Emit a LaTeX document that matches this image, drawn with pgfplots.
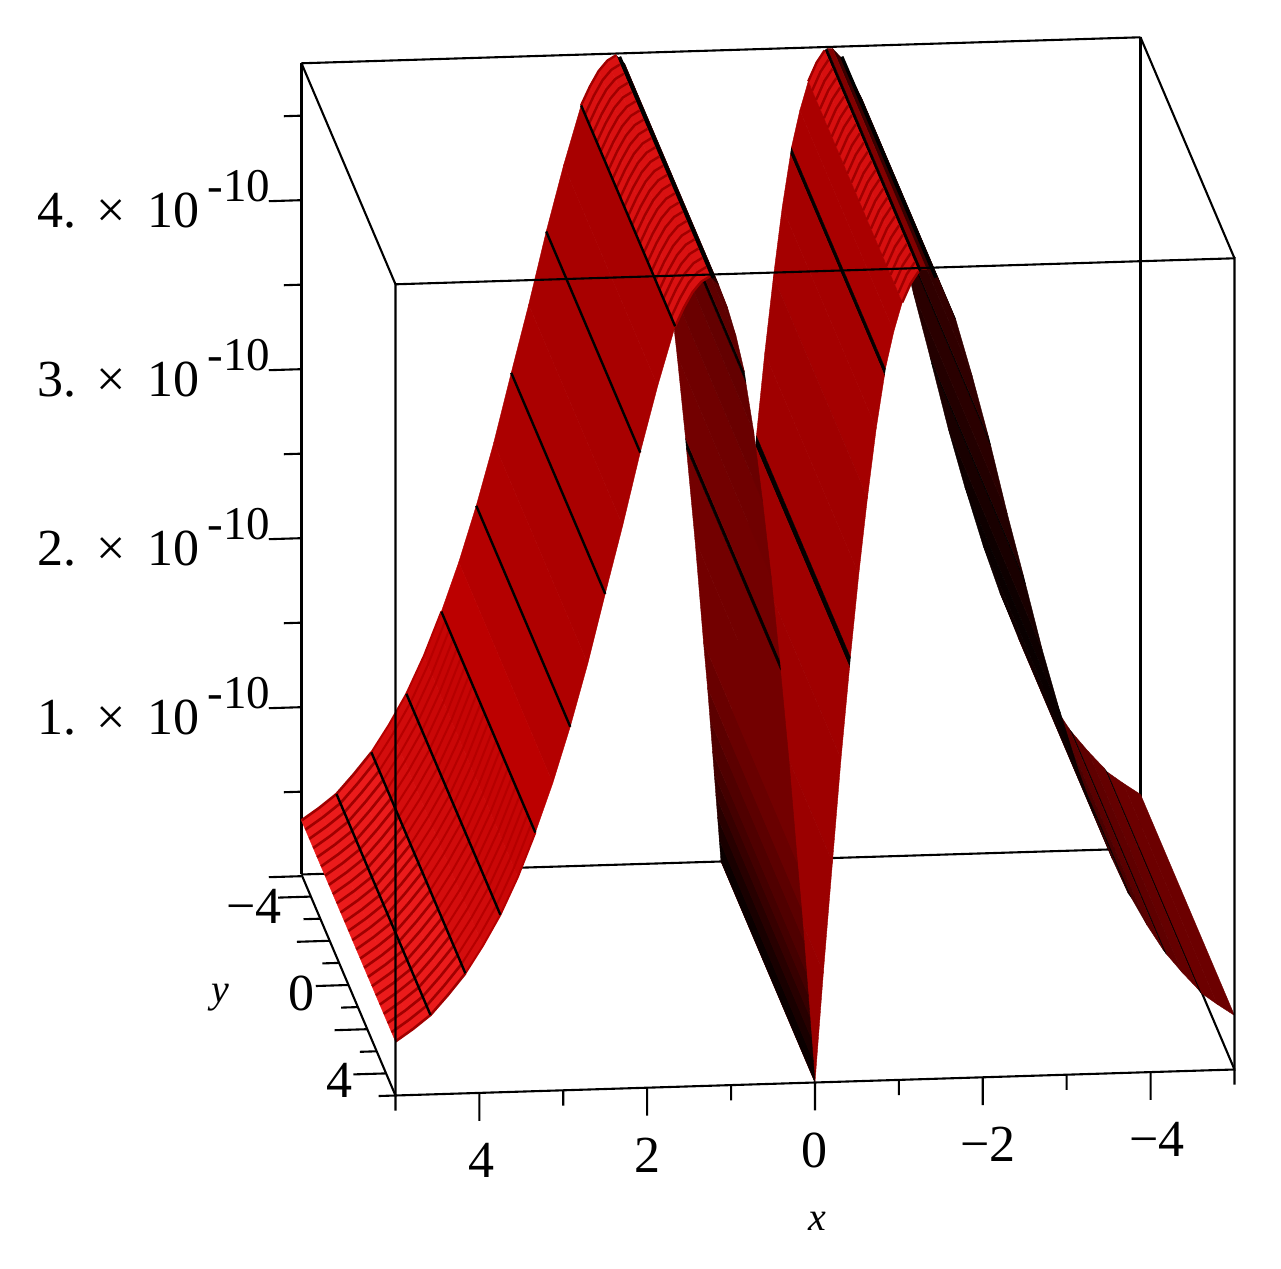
\documentclass[border=0pt]{standalone}
\usepackage{fontspec}
\setmainfont{Liberation Serif}
\usepackage{pgfplots}
\usepackage{pgfplotstable}
\pgfplotsset{compat=1.18}

\definecolor{hatchA}{RGB}{160,0,0}
\definecolor{hatchB}{RGB}{182,0,0}
\newcommand\ztick[1]{#1.\hspace{10pt}×\hspace{11pt}10\hspace{4pt}\raisebox{13pt}{\fontsize{23.5}{23.5}\selectfont -10}}
\tikzset{lab/.style={font=\fontsize{26}{26}\selectfont}}

% profile pieces for the fine mesh lines (x, z in units of 1e-10)
\pgfplotstableread{
x z
4.167 0.71
4.375 0.585
4.583 0.47
4.792 0.39
5.000 0.32
}\hatchtail
\pgfplotstableread{
x z
3.333 1.53
3.542 1.27
3.750 1.05
3.958 0.87
4.167 0.71
}\hatchmid
\pgfplotstableread{
x z
1.250 4.79
1.354 4.76
1.458 4.70
1.562 4.61
1.667 4.50
}\hatchpeakL
\pgfplotstableread{
x z
-1.235 4.78
-1.140 4.71
-1.040 4.60
}\hatchpeakR

\begin{document}
\begin{tikzpicture}
\path[use as bounding box] (0,0) rectangle (640.5pt,634.5pt);
\begin{axis}[
  at={(384pt,148.5pt)},anchor=origin,
  x={(-41.95pt,-1.3pt)},y={(4.7pt,-11.05pt)},z={(0pt,84.5pt)},
  xmin=-5,xmax=5,ymin=-5,ymax=5,zmin=0,zmax=4.8,
  hide axis,clip=false,
  z buffer=none,
  colormap={surfred}{rgb255(0)=(0,0,0) rgb255(190)=(190,0,0) rgb255(240)=(240,30,30)},
  point meta min=0,point meta max=240,
  boxline/.style={black,line width=1.05pt,no marks,forget plot},
  tickl/.style={black,line width=1.05pt,no marks,forget plot},
]
% back of the box
\addplot3[boxline] coordinates {(5,-5,0) (5,-5,4.8)};
\addplot3[boxline] coordinates {(-5,-5,0) (-5,-5,4.8)};
\addplot3[boxline] coordinates {(5,-5,0) (-5,-5,0) (-5,5,0)};
\addplot3[boxline] coordinates {(5,-5,4.8) (-5,-5,4.8)};

% surface, strips in rising x so the nearer ones paint over
\addplot3[surf,shader=flat corner,line width=0.2pt,point meta=\thisrow{m},forget plot] table[x=x,y=y,z=z] {
x y z m
-5.000 -5 0.32 108
-5.000 5 0.32 108

-4.792 -5 0.39 108
-4.792 5 0.39 108

-4.600 -5 0.46 5
-4.600 5 0.46 5

-4.570 -5 0.48 100
-4.570 5 0.48 100

-4.375 -5 0.585 95
-4.375 5 0.585 95

-4.182 -5 0.70 5
-4.182 5 0.70 5

-4.152 -5 0.72 90
-4.152 5 0.72 90

-3.958 -5 0.87 75
-3.958 5 0.87 75

-3.765 -5 1.04 5
-3.765 5 1.04 5

-3.735 -5 1.06 60
-3.735 5 1.06 60

-3.542 -5 1.27 45
-3.542 5 1.27 45

-3.343 -5 1.52 5
-3.343 5 1.52 5

-3.323 -5 1.54 15
-3.323 5 1.54 15

-3.125 -5 1.82 10
-3.125 5 1.82 10

-2.927 -5 2.14 4
-2.927 5 2.14 4

-2.907 -5 2.17 14
-2.907 5 2.17 14

-2.708 -5 2.52 25
-2.708 5 2.52 25

-2.510 -5 2.91 4
-2.510 5 2.91 4

-2.490 -5 2.95 35
-2.490 5 2.95 35

-2.292 -5 3.33 42
-2.292 5 3.33 42

-2.093 -5 3.74 4
-2.093 5 3.74 4

-2.073 -5 3.78 48
-2.073 5 3.78 48

-1.875 -5 4.15 50
-1.875 5 4.15 50

-1.677 -5 4.49 4
-1.677 5 4.49 4

-1.657 -5 4.51 52
-1.657 5 4.51 52

-1.562 -5 4.61 55
-1.562 5 4.61 55

-1.458 -5 4.72 55
-1.458 5 4.72 55

-1.330 -5 4.79 130
-1.330 5 4.79 130

-1.265 -5 4.79 5
-1.265 5 4.79 5

-1.235 -5 4.78 215
-1.235 5 4.78 215

-1.140 -5 4.71 215
-1.140 5 4.71 215

-1.040 -5 4.60 170
-1.040 5 4.60 170

-0.940 -5 4.43 170
-0.940 5 4.43 170

-0.839 -5 4.21 5
-0.839 5 4.21 5

-0.828 -5 4.17 165
-0.828 5 4.17 165

-0.730 -5 3.86 165
-0.730 5 3.86 165

-0.625 -5 3.45 160
-0.625 5 3.45 160

-0.522 -5 3.00 160
-0.522 5 3.00 160

-0.422 -5 2.51 5
-0.422 5 2.51 5

-0.412 -5 2.45 160
-0.412 5 2.45 160

-0.310 -5 1.91 158
-0.310 5 1.91 158

-0.208 -5 1.30 155
-0.208 5 1.30 155

-0.100 -5 0.65 152
-0.100 5 0.65 152

0.000 -5 0.00 10
0.000 5 0.00 10

0.020 -5 0.13 25
0.020 5 0.13 25

0.040 -5 0.26 40
0.040 5 0.26 40

0.060 -5 0.39 55
0.060 5 0.39 55

0.080 -5 0.52 68
0.080 5 0.52 68

0.100 -5 0.65 80
0.100 5 0.65 80

0.130 -5 0.84 92
0.130 5 0.84 92

0.160 -5 1.03 105
0.160 5 1.03 105

0.208 -5 1.30 115
0.208 5 1.30 115

0.310 -5 1.91 115
0.310 5 1.91 115

0.412 -5 2.45 5
0.412 5 2.45 5

0.422 -5 2.51 115
0.422 5 2.51 115

0.522 -5 3.00 112
0.522 5 3.00 112

0.625 -5 3.45 106
0.625 5 3.45 106

0.730 -5 3.86 100
0.730 5 3.86 100

0.826 -5 4.16 5
0.826 5 4.16 5

0.842 -5 4.22 95
0.842 5 4.22 95

0.940 -5 4.43 90
0.940 5 4.43 90

1.042 -5 4.60 85
1.042 5 4.60 85

1.150 -5 4.74 40
1.150 5 4.74 40

1.250 -5 4.79 218
1.250 5 4.79 218

1.354 -5 4.76 218
1.354 5 4.76 218

1.458 -5 4.70 218
1.458 5 4.70 218

1.562 -5 4.61 218
1.562 5 4.61 218

1.667 -5 4.50 168
1.667 5 4.50 168

1.875 -5 4.15 168
1.875 5 4.15 168

2.083 -5 3.76 168
2.083 5 3.76 168

2.292 -5 3.33 170
2.292 5 3.33 170

2.500 -5 2.93 172
2.500 5 2.93 172

2.708 -5 2.52 175
2.708 5 2.52 175

2.917 -5 2.15 180
2.917 5 2.15 180

3.125 -5 1.82 188
3.125 5 1.82 188

3.333 -5 1.53 198
3.333 5 1.53 198

3.542 -5 1.27 202
3.542 5 1.27 202

3.750 -5 1.05 208
3.750 5 1.05 208

3.958 -5 0.87 212
3.958 5 0.87 212

4.167 -5 0.71 235
4.167 5 0.71 235

4.375 -5 0.585 235
4.375 5 0.585 235

4.583 -5 0.47 235
4.583 5 0.47 235

4.792 -5 0.39 235
4.792 5 0.39 235

5.000 -5 0.32 235
5.000 5 0.32 235
};

% fine mesh lines
\pgfplotsinvokeforeach{-5,-4.5833,-4.1667,-3.75,-3.3333,-2.9167,-2.5,-2.0833,-1.6667,-1.25,-0.8333,-0.4167,0,0.4167,0.8333,1.25,1.6667,2.0833,2.5,2.9167,3.3333,3.75,4.1667,4.5833,5}{
  \addplot3[hatchA,line width=1.3pt,no marks,forget plot] table[x=x,y expr=#1,z=z] {\hatchtail};
  \addplot3[hatchB,line width=1pt,no marks,forget plot] table[x=x,y expr=#1,z=z] {\hatchmid};
  \addplot3[hatchA,line width=1.2pt,no marks,forget plot] table[x=x,y expr=#1,z=z] {\hatchpeakL};
  \addplot3[hatchA,line width=1.2pt,no marks,forget plot] table[x=x,y expr=#1,z=z] {\hatchpeakR};
}

% coarse grid lines on the open side
\addplot3[black,line width=1.2pt,no marks,forget plot,empty line=jump] table[x=x,y=y,z=z] {
x y z
1.667 -5 4.50
1.667 5 4.50

2.083 -5 3.76
2.083 5 3.76

2.500 -5 2.93
2.500 5 2.93

2.917 -5 2.15
2.917 5 2.15

3.333 -5 1.53
3.333 5 1.53

3.750 -5 1.05
3.750 5 1.05

4.167 -5 0.71
4.167 5 0.71

4.583 -5 0.47
4.583 5 0.47
};
% ridge edges
\addplot3[black,line width=1.7pt,no marks,forget plot,empty line=jump] table[x=x,y=y,z=z] {
x y z
1.210 -5 4.78
1.210 5 4.78

-1.440 -5 4.74
-1.440 5 4.74
};

% front of the box
\addplot3[boxline] coordinates {(5,5,0) (5,5,4.8) (-5,5,4.8) (-5,5,0) (5,5,0)};
\addplot3[boxline] coordinates {(5,5,4.8) (5,-5,4.8)};
\addplot3[boxline] coordinates {(-5,5,4.8) (-5,-5,4.8)};
\addplot3[boxline] coordinates {(5,-5,0) (5,5,0)};

% ticks
\addplot3[tickl,empty line=jump] table[x=x,y=y,z=z] {
x y z
4 5 0
4 5 -0.165

2 5 0
2 5 -0.165

0 5 0
0 5 -0.165

-2 5 0
-2 5 -0.165

-4 5 0
-4 5 -0.165

5 5 0
5 5 -0.09

3 5 0
3 5 -0.09

1 5 0
1 5 -0.09

-1 5 0
-1 5 -0.09

-3 5 0
-3 5 -0.09

-5 5 0
-5 5 -0.09

5 -4 0
5.39 -4 0

5 -2 0
5.39 -2 0

5 0 0
5.39 0 0

5 2 0
5.39 2 0

5 4 0
5.39 4 0

5 -3 0
5.2 -3 0

5 -1 0
5.2 -1 0

5 1 0
5.2 1 0

5 3 0
5.2 3 0

5 5 0
5.2 5 0

5 -5 -0.01
5.39 -5 -0.01

5 -5 0.99
5.39 -5 0.99

5 -5 1.99
5.39 -5 1.99

5 -5 2.99
5.39 -5 2.99

5 -5 3.99
5.39 -5 3.99

5 -5 0.49
5.21 -5 0.49

5 -5 1.49
5.21 -5 1.49

5 -5 2.49
5.21 -5 2.49

5 -5 3.49
5.21 -5 3.49

5 -5 4.49
5.21 -5 4.49
};

% labels
\node[lab] at (axis cs:3.97,5,-0.40) {4};
\node[lab] at (axis cs:2,5,-0.40) {2};
\node[lab] at (axis cs:0,5,-0.40) {0};
\node[lab] at (axis cs:-2.06,5,-0.40) {−2};
\node[lab] at (axis cs:-4.08,5,-0.40) {−4};
\node[lab] at (axis cs:5.68,-4,-0.05) {−4};
\node[lab] at (axis cs:5.56,0,-0.04) {0};
\node[lab] at (axis cs:5.56,4,-0.03) {4};
\node[lab,anchor=base east] at (axis cs:5.29,-5,0.83) {\ztick{1}};
\node[lab,anchor=base east] at (axis cs:5.29,-5,1.83) {\ztick{2}};
\node[lab,anchor=base east] at (axis cs:5.29,-5,2.83) {\ztick{3}};
\node[lab,anchor=base east] at (axis cs:5.29,-5,3.83) {\ztick{4}};
\node[font=\fontsize{20}{20}\selectfont\itshape] at (axis cs:-0.03,5,-0.82) {x};
\node[font=\fontsize{20}{20}\selectfont\itshape] at (axis cs:6.53,0,-0.05) {y};
\end{axis}
\end{tikzpicture}
\end{document}
